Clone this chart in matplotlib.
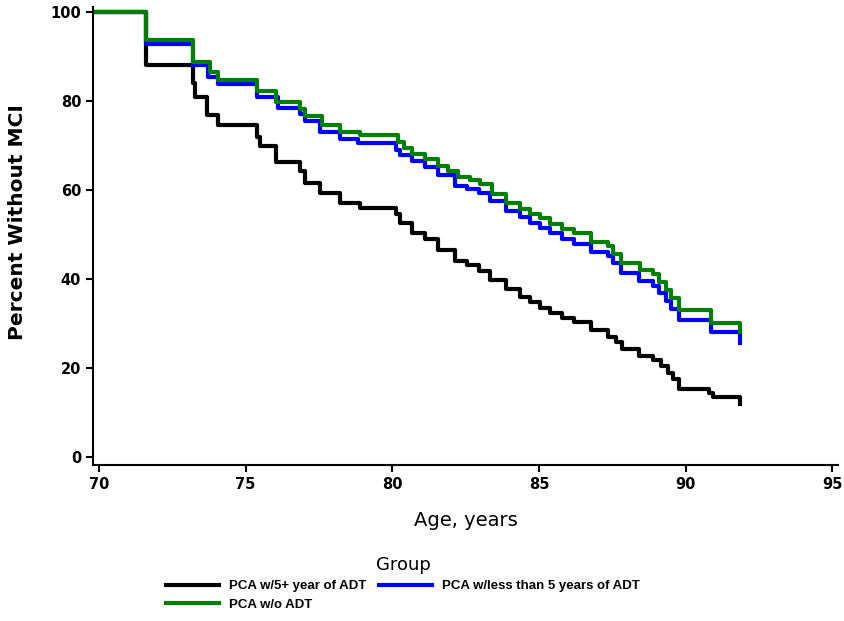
import matplotlib
matplotlib.use("Agg")
import matplotlib.pyplot as plt
from matplotlib import font_manager

# Kaplan-Meier step data (age in years, percent without MCI)
age_5plus = [69.8, 71.60, 73.21, 73.28, 73.69, 74.06, 75.39, 75.49, 76.04, 76.86, 77.03, 77.54,
             78.23, 78.91, 80.14, 80.27, 80.68, 81.13, 81.57, 82.15, 82.56, 82.94, 83.34,
             83.89, 84.37, 84.71, 85.05, 85.39, 85.80, 86.18, 86.76, 87.37, 87.61, 87.82,
             88.40, 88.87, 89.15, 89.39, 89.56, 89.76, 90.78, 90.92, 91.85]
pct_5plus = [100, 88.1, 84.0, 80.9, 76.9, 74.6, 72.0, 69.9, 66.3, 64.3, 61.6, 59.3,
             57.1, 56.0, 54.6, 52.6, 50.3, 49.1, 46.6, 44.0, 43.1, 41.8, 39.8,
             37.7, 36.0, 34.8, 33.5, 32.4, 31.2, 30.3, 28.5, 27.0, 25.8, 24.3,
             22.7, 21.8, 20.4, 18.9, 17.5, 15.4, 14.4, 13.5, 11.9]

age_lt5 = [69.8, 71.60, 73.21, 73.72, 74.06, 75.39, 76.11, 76.86, 77.03, 77.54, 78.23, 78.84,
           80.14, 80.27, 80.68, 81.13, 81.57, 82.15, 82.56, 82.94, 83.34, 83.89, 84.37,
           84.71, 85.05, 85.39, 85.80, 86.18, 86.76, 87.34, 87.51, 87.78, 88.40, 88.87,
           89.08, 89.32, 89.49, 89.76, 90.85, 91.85]
pct_lt5 = [100, 92.8, 88.1, 85.4, 83.8, 80.8, 78.4, 77.0, 75.5, 73.0, 71.5, 70.5,
           69.0, 67.8, 66.5, 65.2, 63.3, 61.0, 60.2, 59.3, 57.5, 55.2, 54.0,
           52.6, 51.5, 50.3, 49.0, 47.9, 46.0, 45.2, 43.6, 41.3, 39.5, 38.4,
           36.8, 35.0, 33.3, 30.7, 28.2, 25.7]

age_noadt = [69.8, 71.60, 73.21, 73.79, 74.06, 75.39, 76.04, 76.86, 77.03, 77.61, 78.23, 78.91,
             80.20, 80.41, 80.68, 81.13, 81.57, 81.91, 82.25, 82.66, 83.00, 83.41, 83.89,
             84.37, 84.71, 85.05, 85.39, 85.80, 86.18, 86.76, 87.34, 87.51, 87.78, 88.46,
             88.87, 89.08, 89.32, 89.49, 89.76, 90.85, 91.85]
pct_noadt = [100, 93.6, 88.8, 86.5, 84.8, 82.3, 79.7, 78.3, 76.7, 74.6, 73.0, 72.3,
             70.7, 69.4, 68.0, 67.0, 65.5, 64.3, 63.0, 62.3, 61.3, 59.0, 57.0,
             55.8, 54.6, 53.6, 52.4, 51.2, 50.3, 48.3, 47.4, 45.7, 43.6, 42.0,
             41.2, 39.3, 37.5, 35.7, 33.0, 30.2, 28.0]

labels = ["PCA w/5+ year of ADT", "PCA w/less than 5 years of ADT", "PCA w/o ADT"]
xticks = [70, 75, 80, 85, 90, 95]
yticks = [0, 20, 40, 60, 80, 100]

# narrow font for the legend if the system has one
names = {f.name for f in font_manager.fontManager.ttflist}
if "Liberation Sans Narrow" in names:
    leg_font = {"family": "Liberation Sans Narrow", "weight": "bold", "size": 12}
else:
    leg_font = {"family": "Liberation Sans", "weight": "bold", "size": 9.5}

fig = plt.figure(figsize=(8.45, 6.21), dpi=100)
ax = fig.add_axes([0.110, 0.251, 0.882, 0.737])

l1, = ax.step(age_5plus, pct_5plus, where="post", color="black", lw=3, label=labels[0])
l2, = ax.step(age_lt5, pct_lt5, where="post", color="#0000ff", lw=3, label=labels[1])
l3, = ax.step(age_noadt, pct_noadt, where="post", color="#007f00", lw=3, label=labels[2])

ax.set_xlim(69.8, 95.2)
ax.set_ylim(-1.8, 101)
ax.set_xticks(xticks)
ax.set_yticks(yticks)
ax.spines["top"].set_visible(False)
ax.spines["right"].set_visible(False)
for s in ["left", "bottom"]:
    ax.spines[s].set_linewidth(1.5)
ax.tick_params(direction="out", length=5, width=1.5, labelsize=10.5)
for t in ax.get_xticklabels() + ax.get_yticklabels():
    t.set_fontweight("bold")

ax.set_xlabel("Age, years", fontsize=14, labelpad=14)
ax.set_ylabel("Percent Without MCI", fontsize=14.5, fontweight="bold")
ax.yaxis.set_label_coords(-0.088, 0.53)

leg = fig.legend([l1, l3, l2], [labels[0], labels[2], labels[1]], ncol=2,
                 loc="upper center", bbox_to_anchor=(0.477, 1 - 551 / 621),
                 frameon=False, title="Group", handlelength=4.0,
                 columnspacing=1.0, handletextpad=0.75, labelspacing=0.45,
                 borderaxespad=0, prop=leg_font)
leg.get_title().set_fontsize(13)

fig.savefig("out.png", dpi=100)
